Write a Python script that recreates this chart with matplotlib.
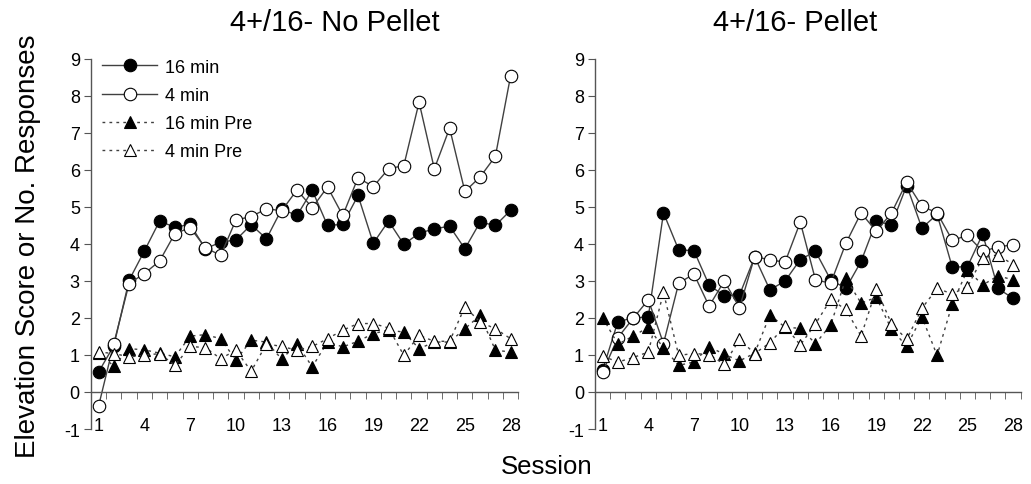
import numpy as np
import matplotlib.pyplot as plt

plt.rcParams['font.family'] = ['Liberation Sans', 'DejaVu Sans']
plt.rcParams['axes.unicode_minus'] = False

sessions = np.arange(1, 29)
x_ticks = [1, 4, 7, 10, 13, 16, 19, 22, 25, 28]
titles = ['4+/16- No Pellet', '4+/16- Pellet']
labels = ['16 min', '4 min', '16 min Pre', '4 min Pre']

# left panel: no pellet
np_16 = [0.54, 1.25, 3.02, 3.81, 4.62, 4.45, 4.53, 3.87, 4.05, 4.11, 4.52, 4.14, 4.94, 4.77,
         5.45, 4.50, 4.53, 5.31, 4.02, 4.62, 3.99, 4.29, 4.41, 4.48, 3.87, 4.59, 4.50, 4.91]
np_4 = [-0.38, 1.31, 2.93, 3.20, 3.54, 4.28, 4.44, 3.90, 3.69, 4.65, 4.74, 4.95, 4.90, 5.46,
        4.98, 5.54, 4.77, 5.79, 5.55, 6.03, 6.12, 7.83, 6.03, 7.13, 5.42, 5.81, 6.37, 8.55]
np_16pre = [1.05, 0.70, 1.17, 1.14, 1.05, 0.95, 1.51, 1.55, 1.44, 0.86, 1.40, 1.35, 0.89, 1.30,
            0.68, 1.35, 1.22, 1.37, 1.58, 1.67, 1.62, 1.17, 1.35, 1.35, 1.71, 2.07, 1.13, 1.08]
np_4pre = [1.08, 1.04, 0.95, 0.99, 1.04, 0.72, 1.23, 1.20, 0.90, 1.13, 0.56, 1.30, 1.23, 1.13,
           1.23, 1.44, 1.67, 1.85, 1.85, 1.73, 0.99, 1.53, 1.37, 1.37, 2.30, 1.89, 1.71, 1.44]

# right panel: pellet
p_16 = [0.60, 1.90, 2.00, 2.03, 4.84, 3.84, 3.82, 2.89, 2.60, 2.62, 3.65, 2.76, 3.00, 3.58,
        3.80, 3.03, 2.80, 3.53, 4.61, 4.52, 5.58, 4.43, 4.80, 3.37, 3.39, 4.27, 2.80, 2.53]
p_4 = [0.54, 1.47, 1.99, 2.49, 1.31, 2.94, 3.19, 2.32, 3.00, 2.28, 3.66, 3.57, 3.51, 4.59,
       3.03, 2.94, 4.02, 4.84, 4.34, 4.84, 5.67, 5.02, 4.84, 4.10, 4.23, 3.80, 3.92, 3.98]
p_16pre = [2.01, 1.29, 1.51, 1.75, 1.19, 0.72, 0.81, 1.22, 1.02, 0.84, 1.05, 2.08, 1.75, 1.72,
           1.31, 1.81, 3.07, 2.40, 2.56, 1.69, 1.24, 2.03, 0.99, 2.38, 3.30, 2.89, 3.14, 3.03]
p_4pre = [0.97, 0.81, 0.93, 1.08, 2.69, 0.99, 1.04, 1.01, 0.75, 1.42, 1.04, 1.33, 1.78, 1.27,
          1.84, 2.50, 2.23, 1.51, 2.78, 1.85, 1.42, 2.26, 2.80, 2.65, 2.85, 3.62, 3.71, 3.44]

panels = [[np_16, np_4, np_16pre, np_4pre], [p_16, p_4, p_16pre, p_4pre]]

styles = [
    dict(ls='-', marker='o', mfc='black'),
    dict(ls='-', marker='o', mfc='white'),
    dict(ls=(0, (2, 3)), marker='^', mfc='black'),
    dict(ls=(0, (2, 3)), marker='^', mfc='white'),
]

fig = plt.figure(figsize=(10.31, 4.85), dpi=100)
ax_left = fig.add_axes([0.0882, 0.1134, 0.4145, 0.763])
ax_right = fig.add_axes([0.5772, 0.1134, 0.4128, 0.763])

for ax, series in zip([ax_left, ax_right], panels):
    for ys, st, lab in zip(series, styles, labels):
        ax.plot(sessions, ys, linestyle=st['ls'], color='#404040', lw=1.0,
                marker=st['marker'], markersize=9, markerfacecolor=st['mfc'],
                markeredgecolor='black', markeredgewidth=0.8, label=lab)
    ax.set_xlim(0.5, 28.5)
    ax.set_ylim(-1, 9)
    ax.set_yticks(range(-1, 10))
    ax.set_xticks(x_ticks)
    ax.set_xticks(np.arange(1.5, 29, 1), minor=True)
    ax.spines['top'].set_visible(False)
    ax.spines['right'].set_visible(False)
    ax.spines['bottom'].set_position(('data', 0))
    for s in ['left', 'bottom']:
        ax.spines[s].set_color('#555555')
        ax.spines[s].set_linewidth(1.0)
    ax.tick_params(axis='y', direction='out', length=5, color='#555555', labelsize=13, pad=3)
    ax.tick_params(axis='x', which='major', length=0, labelsize=13, pad=18)
    ax.tick_params(axis='x', which='minor', direction='out', length=5, color='#555555')

# panel titles
fig.text(335 / 1031, 1 - 23 / 485, titles[0], fontsize=21, ha='center', va='center')
fig.text(795 / 1031, 1 - 23 / 485, titles[1], fontsize=21, ha='center', va='center')

ax_left.legend(loc='upper left', bbox_to_anchor=(0.01, 1.02), frameon=False, fontsize=13,
               handlelength=3.0, handletextpad=0.45, labelspacing=0.62, borderaxespad=0)

fig.text(0.027, 0.493, 'Elevation Score or No. Responses', rotation=90, fontsize=20,
         ha='center', va='center')
fig.text(0.5306, 0.037, 'Session', fontsize=18.5, ha='center', va='center')

fig.savefig('out.png', dpi=100)
